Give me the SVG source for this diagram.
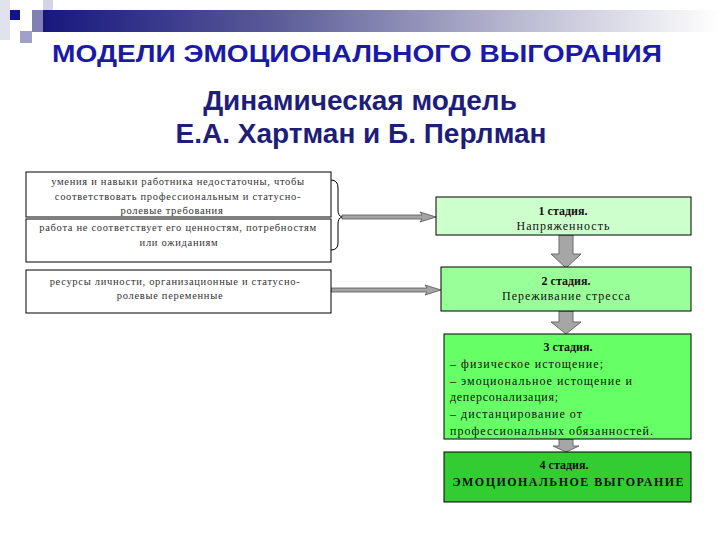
<svg xmlns="http://www.w3.org/2000/svg" width="720" height="540" viewBox="0 0 720 540">
<defs>
<linearGradient id="bar" x1="0" y1="0" x2="1" y2="0">
<stop offset="0" stop-color="#14147e"/>
<stop offset="0.35" stop-color="#5a5a98"/>
<stop offset="0.7" stop-color="#b8b8d0"/>
<stop offset="1" stop-color="#ffffff"/>
</linearGradient>
<style>
.title{font-family:"Liberation Sans",Arial,sans-serif;font-weight:bold;}
.lt{font-family:"Liberation Serif","Times New Roman",serif;font-size:10.5px;letter-spacing:0.7px;fill:#333;text-anchor:middle;}
.st{font-family:"Liberation Serif","Times New Roman",serif;font-size:12px;fill:#111;}
.b{font-weight:bold;}
.lbox{fill:#fff;stroke:#000;stroke-width:1;}
.sbox{stroke:#000;stroke-width:1;}
.harrow{fill:#a4a4a4;stroke:#555;stroke-width:0.8;}
.varrow{fill:#a6a6a6;stroke:#6a6a6a;stroke-width:1;}
</style>
</defs>
<rect width="720" height="540" fill="#fff"/>
<g id="header">
<rect x="0" y="0" width="10" height="40" fill="#e2e2ee"/>
<rect x="43" y="0" width="10" height="12" fill="#d4d4e6"/>
<rect x="32" y="10" width="688" height="22" fill="url(#bar)"/>
<rect x="32" y="10" width="11" height="22" fill="#8080b4"/>
<rect x="20" y="31" width="12" height="12" fill="#a0a0c8"/>
<rect x="10" y="10" width="10" height="10" fill="#14148a"/>
</g>
<text class="title" x="52" y="62" font-size="24" textLength="610" lengthAdjust="spacingAndGlyphs" fill="#1a1aa8">МОДЕЛИ ЭМОЦИОНАЛЬНОГО ВЫГОРАНИЯ</text>
<text class="title" x="360" y="110" font-size="28" text-anchor="middle" fill="#1e1e7a">Динамическая модель</text>
<text class="title" x="361" y="143" font-size="28" text-anchor="middle" fill="#1e1e7a">Е.А. Хартман и Б. Перлман</text>

<g id="connectors">
<path d="M331,180 Q338,180 338,188 L338,210 Q338,216 342,217 Q338,218 338,224 L338,243 Q338,250 331,250" fill="none" stroke="#000" stroke-width="1"/>
<path class="harrow" d="M342,215 L422,215 L420,212 L436,217 L420,222 L422,219 L342,219 Z"/>
<path class="harrow" d="M331,288 L427,288 L425,285 L441,290 L425,295 L427,292 L331,292 Z"/>
<path class="varrow" d="M559,235 L573,235 L573,254 L581,254 L566,268 L551,254 L559,254 Z"/>
<path class="varrow" d="M559,311 L573,311 L573,322 L581,322 L566,334 L551,322 L559,322 Z"/>
<path class="varrow" d="M559,439 L573,439 L573,446 L579,446 L566,452 L553,446 L559,446 Z"/>
</g>

<g id="cause1">
<rect class="lbox" x="26" y="172" width="305" height="45"/>
<text class="lt" x="178" y="185">умения и навыки работника недостаточны, чтобы</text>
<text class="lt" x="178" y="200">соответствовать профессиональным и статусно-</text>
<text class="lt" x="172" y="214">ролевые требования</text>
</g>
<g id="cause2">
<rect class="lbox" x="26" y="219" width="305" height="43"/>
<text class="lt" x="178" y="231">работа не соответствует его ценностям, потребностям</text>
<text class="lt" x="179" y="246">или ожиданиям</text>
</g>
<g id="cause3">
<rect class="lbox" x="26" y="270" width="305" height="43"/>
<text class="lt" x="175" y="285">ресурсы личности, организационные и статусно-</text>
<text class="lt" x="170" y="299">ролевые переменные</text>
</g>

<g id="stage1">
<rect class="sbox" x="436" y="197" width="255" height="38" fill="#ccffcc"/>
<text class="st b" x="563" y="215" text-anchor="middle">1 стадия.</text>
<text class="st" x="563" y="230" text-anchor="middle" textLength="93">Напряженность</text>
</g>
<g id="stage2">
<rect class="sbox" x="441" y="267" width="250" height="44" fill="#99ff99"/>
<text class="st b" x="566" y="285" text-anchor="middle">2 стадия.</text>
<text class="st" x="566" y="300" text-anchor="middle" textLength="128">Переживание стресса</text>
</g>
<g id="stage3">
<rect class="sbox" x="444" y="334" width="247" height="105" fill="#66ff66"/>
<text class="st b" x="568" y="351" text-anchor="middle">3 стадия.</text>
<text class="st" x="450" y="368" textLength="153">– физическое истощение;</text>
<text class="st" x="450" y="385" textLength="182">– эмоциональное истощение и</text>
<text class="st" x="450" y="401" textLength="108">деперсонализация;</text>
<text class="st" x="450" y="418" textLength="132">– дистанцирование от</text>
<text class="st" x="450" y="435" textLength="203">профессиональных обязанностей.</text>
</g>
<g id="stage4">
<rect class="sbox" x="444" y="452" width="247" height="50" fill="#33cc33"/>
<text class="st b" x="564" y="469" text-anchor="middle">4 стадия.</text>
<text class="st b" x="568" y="486" text-anchor="middle" textLength="231">ЭМОЦИОНАЛЬНОЕ ВЫГОРАНИЕ</text>
</g>
</svg>
